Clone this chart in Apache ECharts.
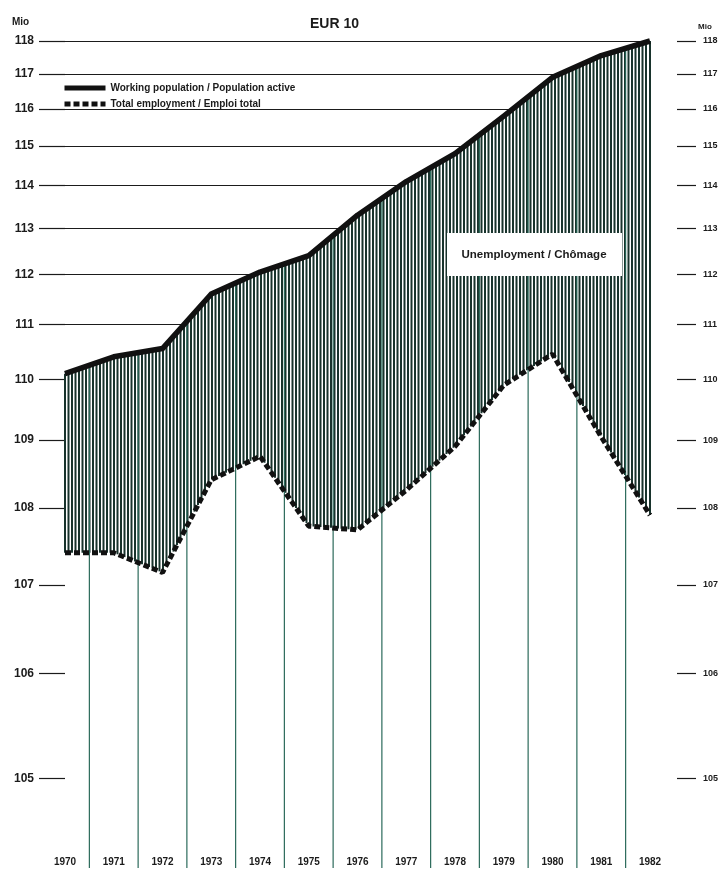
<!DOCTYPE html>
<html>
<head>
<meta charset="utf-8">
<title>EUR 10</title>
<style>
html, body { margin:0; padding:0; background:#fff; }
#chart { width:724px; height:895px; }
</style>
</head>
<body>
<div id="chart"></div>
<script src="https://cdn.jsdelivr.net/npm/echarts@6/dist/echarts.min.js"></script>
<script>
"use strict";
// Mio persons, EUR 10
var years = ['1970', '1971', '1972', '1973', '1974', '1975', '1976', '1977', '1978', '1979', '1980', '1981', '1982'];
var working = [110.1, 110.4, 110.55, 111.6, 112.05, 112.4, 113.3, 114.1, 114.8, 115.8, 116.9, 117.55, 118.0];
var employment = [107.4, 107.4, 107.15, 108.4, 108.75, 107.75, 107.7, 108.25, 108.9, 109.9, 110.45, 109.05, 107.9];
var yTicks = [105, 106, 107, 108, 109, 110, 111, 112, 113, 114, 115, 116, 117, 118];

var FONT = '"Liberation Sans", Arial, sans-serif';
var INK = '#1b1b1b';
var HATCH = '#18332c';

// the original scale is logarithmic in (value - 100)
var OFFSET = 100;
function tr(v){ return Math.log(v - OFFSET); }
function untr(t){ return Math.exp(t) + OFFSET; }
var yMin = tr(104.28), yMax = tr(118);
var tickPos = yTicks.map(tr);

// hatching between the two lines + year separators below
function renderHatch(params, api){
	var i = params.dataIndex;
	var w0 = api.coord([i, tr(working[i])]), w1 = api.coord([i + 1, tr(working[i+1])]);
	var e0 = api.coord([i, tr(employment[i])]), e1 = api.coord([i + 1, tr(employment[i+1])]);
	var cs = params.coordSys;
	var bottom = cs.y + cs.height, gx = cs.x, step = 3.5;
	function at(a, b, x){ return a[1] + (b[1] - a[1]) * (x - a[0]) / (b[0] - a[0]); }
	var kids = [];
	var k = Math.ceil((w0[0] - gx) / step - 1e-6);
	for(var x = gx + k * step; x < w1[0] - 0.5; x += step){
		kids.push({ type:'line', shape:{ x1:x, y1:at(w0, w1, x), x2:x, y2:at(e0, e1, x) },
			style:{ stroke:HATCH, lineWidth:2 } });
	}
	if(i === years.length - 2){
		kids.push({ type:'line', shape:{ x1:w1[0], y1:w1[1], x2:w1[0], y2:e1[1] },
			style:{ stroke:HATCH, lineWidth:2 } });
	}
	var xm = (w0[0] + w1[0]) / 2;
	kids.push({ type:'line', shape:{ x1:xm, y1:bottom, x2:xm, y2:at(w0, w1, xm) },
		style:{ stroke:'#2c6a5b', lineWidth:1.2 } });
	return { type:'group', children:kids };
}

var option = {
	animation: false,
	title: { text:'EUR 10', left:305, top:12,
		textStyle:{ fontFamily:FONT, fontSize:14, fontWeight:'bold', color:INK } },
	legend: {
		data: ['Working population / Population active', 'Total employment / Emploi total'],
		orient:'vertical', left:62, top:83, padding:0,
		itemWidth:41, itemHeight:8, itemGap:6,
		itemStyle:{ color:'rgba(0,0,0,0)', opacity:0, borderWidth:0 },
		lineStyle:{ width:5 },
		textStyle:{ fontFamily:FONT, fontSize:10, fontWeight:'bold', color:INK }
	},
	grid: { left:65, right:74, top:41, bottom:27, outerBoundsMode:'none' },
	xAxis: {
		type:'category', data:years, boundaryGap:false, z:10,
		axisLine:{ show:false }, axisTick:{ show:false }, splitLine:{ show:false },
		axisLabel:{ inside:true, margin:1, interval:0, fontFamily:FONT, fontSize:10, fontWeight:'bold', color:INK }
	},
	yAxis: [
		{
			type:'value', min:yMin, max:yMax, position:'left',
			axisLine:{ show:false },
			axisTick:{ show:true, length:26, customValues:tickPos, lineStyle:{ color:INK, width:1.2 } },
			axisLabel:{ margin:31, customValues:tickPos, fontFamily:FONT, fontSize:12, fontWeight:'bold', color:INK,
				formatter:function(v){ return String(Math.round(untr(v))); } },
			splitLine:{ show:true, lineStyle:{ color:INK, width:1.2 } }
		},
		{
			type:'value', min:yMin, max:yMax, position:'right', offset:27,
			axisLine:{ show:false },
			axisTick:{ show:true, length:19, customValues:tickPos, lineStyle:{ color:INK, width:1.2 } },
			axisLabel:{ margin:26, customValues:tickPos, fontFamily:FONT, fontSize:9, fontWeight:'bold', color:INK,
				formatter:function(v){ return String(Math.round(untr(v))); } },
			splitLine:{ show:false }
		}
	],
	graphic: [
		{ type:'text', left:12, top:17, z:100,
			style:{ text:'Mio', font:'bold 10px ' + FONT, fill:INK } },
		{ type:'text', left:698, top:23, z:100,
			style:{ text:'Mio', font:'bold 8px ' + FONT, fill:INK } },
		{ type:'rect', shape:{ x:447, y:233, width:175, height:43 }, z:100,
			style:{ fill:'#fff' } },
		{ type:'text', x:534, y:255, z:101,
			style:{ text:'Unemployment / Chômage', font:'bold 11.5px ' + FONT, fill:INK,
				textAlign:'center', textVerticalAlign:'middle' } }
	],
	series: [
		{ // white cover below the working population line
			name:'cover', type:'line', data:working.map(tr), symbol:'none', z:1, silent:true,
			lineStyle:{ width:0 }, areaStyle:{ color:'#fff', opacity:1 }
		},
		{
			name:'hatch', type:'custom', z:3, silent:true, clip:false,
			data: years.slice(0, -1).map(function(y, i){ return [i, tr(working[i])]; }),
			renderItem: renderHatch
		},
		{
			name:'Working population / Population active', type:'line', data:working.map(tr),
			symbol:'none', z:5, clip:false, color:'#111',
			lineStyle:{ color:'#111', width:5.5, cap:'butt', join:'round' }
		},
		{
			name:'Total employment / Emploi total', type:'line', data:employment.map(tr),
			symbol:'none', z:5, clip:false, color:'#111',
			lineStyle:{ color:'#111', width:5, type:[6, 3], cap:'butt' }
		}
	]
};

var myChart = echarts.init(document.getElementById('chart'));
myChart.setOption(option);
</script>
</body>
</html>
